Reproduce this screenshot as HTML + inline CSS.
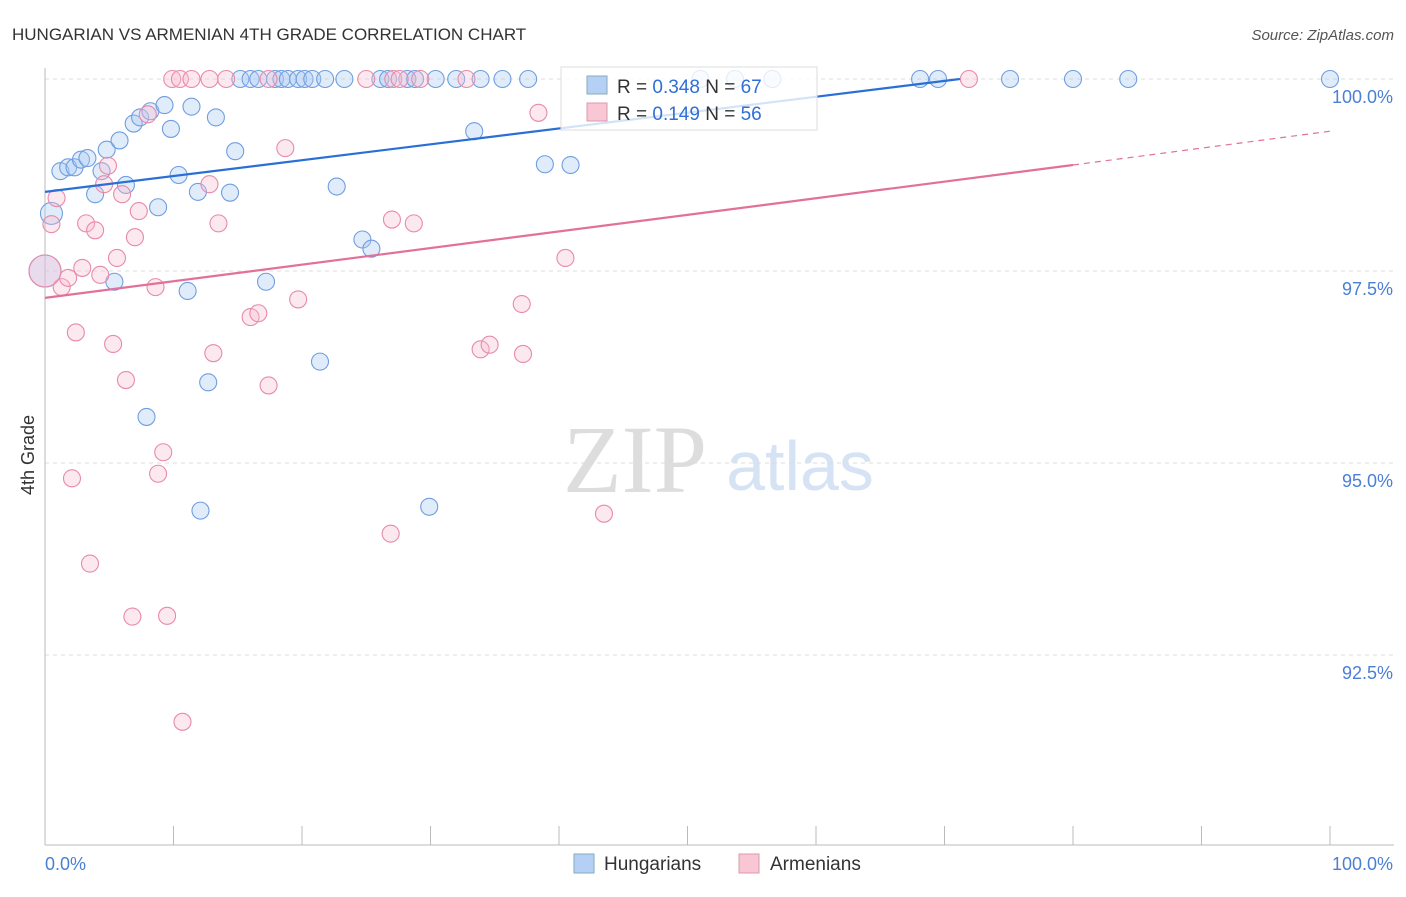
<!DOCTYPE html>
<html><head><meta charset="utf-8"><style>
body{margin:0;background:#fff;font-family:"Liberation Sans",sans-serif}
</style></head><body>
<svg id="c" width="1406" height="892" xmlns="http://www.w3.org/2000/svg" style="font-family:'Liberation Sans',sans-serif">
<text x="12" y="40" font-size="17" fill="#333">HUNGARIAN VS ARMENIAN 4TH GRADE CORRELATION CHART</text>
<text x="1394" y="40" font-size="15" fill="#555" text-anchor="end" font-style="italic">Source: ZipAtlas.com</text>
<text x="34" y="455" font-size="18" fill="#333" text-anchor="middle" transform="rotate(-90 34 455)">4th Grade</text>
<text x="635" y="492" font-size="96" fill="#ddd" font-family="Liberation Serif" text-anchor="middle">ZIP</text>
<text x="800" y="490" font-size="70" fill="#d6e3f5" text-anchor="middle">atlas</text>
<g id="grid"></g><g id="axes"></g><g id="pts"></g><g id="lines"></g>
<g>
<rect x="561" y="67" width="256" height="63" fill="#fff" fill-opacity="0.8" stroke="#ddd"/>
<rect x="587" y="76" width="20" height="18" fill="#b5d0f5" stroke="#8ab"/>
<text x="617" y="93" font-size="19" fill="#333">R = <tspan fill="#2f6fd6">0.348</tspan>   N = <tspan fill="#2f6fd6">67</tspan></text>
<rect x="587" y="103" width="20" height="18" fill="#f9c6d6" stroke="#d9a"/>
<text x="617" y="120" font-size="19" fill="#333">R = <tspan fill="#2f6fd6">0.149</tspan>   N = <tspan fill="#2f6fd6">56</tspan></text>
</g>
<g>
<rect x="574" y="854" width="20" height="19" fill="#b5d0f5" stroke="#8ab"/>
<text x="604" y="870" font-size="19" fill="#333">Hungarians</text>
<rect x="739" y="854" width="20" height="19" fill="#f9c6d6" stroke="#d9a"/>
<text x="770" y="870" font-size="19" fill="#333">Armenians</text>
</g>
</svg>
<script>
const yTicks=[100,97.5,95,92.5];
const yTickLabels=["100.0%","97.5%","95.0%","92.5%"];
const hunX=[0.5,0,1.2,1.8,2.3,2.8,3.3,4.4,3.9,4.8,5.8,6.3,6.9,7.4,8.2,9.3,9.8,10.4,11.4,11.9,13.3,14.4,14.8,8.8,5.4,11.1,17.2,7.9,12.7,12.1,21.4,22.7,24.7,25.4,29.9,33.4,38.9,40.9,15.2,16,16.6,17.9,18.4,18.9,19.7,20.2,20.8,21.8,23.3,26.1,26.7,28.2,28.8,30.4,32,33.9,35.6,37.6,51,53.7,56.6,68.1,69.5,75.1,80,84.3,100];
const hunY=[98.25,97.5,98.8,98.85,98.85,98.95,98.97,98.8,98.5,99.08,99.2,98.62,99.42,99.5,99.58,99.66,99.35,98.75,99.64,98.53,99.5,98.52,99.06,98.33,97.36,97.24,97.36,95.6,96.05,94.38,96.32,98.6,97.91,97.79,94.43,99.32,98.89,98.88,100,100,100,100,100,100,100,100,100,100,100,100,100,100,100,100,100,100,100,100,100,100,100,100,100,100,100,100,100];
const armX=[0.5,0.9,1.3,1.8,2.1,2.4,2.9,3.2,3.5,3.9,4.3,4.6,4.9,5.3,5.6,6,6.3,6.8,7,7.3,8,8.6,8.8,9.2,9.5,10.7,9.9,10.5,11.4,12.8,14.1,12.8,13.1,13.5,16,16.6,17.4,18.7,19.7,17.4,25,27.1,27.6,29.2,32.8,27,28.7,26.9,33.9,34.6,37.1,37.2,38.4,40.5,43.5,71.9,0];
const armY=[98.11,98.45,97.29,97.41,94.8,96.7,97.54,98.12,93.69,98.03,97.45,98.63,98.87,96.55,97.67,98.5,96.08,93,97.94,98.28,99.54,97.29,94.86,95.14,93.01,91.63,100,100,100,100,100,98.63,96.43,98.12,96.9,96.95,96.01,99.1,97.13,100,100,100,100,100,100,98.17,98.12,94.08,96.48,96.54,97.07,96.42,99.56,97.67,94.34,100,97.5];
const big={hun:[0,1],arm:[56]};
const X=v=>45+v*12.85, Y=v=>79+(100-v)*76.8;
const NS="http://www.w3.org/2000/svg";
function mk(t,a,p){const e=document.createElementNS(NS,t);for(const k in a)e.setAttribute(k,a[k]);document.getElementById(p).appendChild(e);return e;}
yTicks.forEach((t,i)=>{
 const l=mk('line',{x1:45,x2:1394,y1:Y(t),y2:Y(t),stroke:'#ddd','stroke-dasharray':'4,4'},'grid');
 
 
 const tx=mk('text',{x:1393,y:Y(t)+24,'font-size':18,fill:'#4a7fd6','text-anchor':'end'},'grid');
 tx.textContent=yTickLabels[i];
 
 
});
const ax=mk('line',{x1:45,x2:1394,y1:845,y2:845,stroke:'#bbb'},'axes');


const ay=mk('line',{x1:45,x2:45,y1:68,y2:845,stroke:'#bbb'},'axes');


for(let i=0;i<=10;i++){const t=mk('line',{x1:X(i*10),x2:X(i*10),y1:826,y2:845,stroke:'#bbb'},'axes');
 
 }
[["0.0%",45,'start'],["100.0%",1393,'end']].forEach(([s,x,a])=>{const t=mk('text',{x:x,y:870,'font-size':18,fill:'#4a7fd6','text-anchor':a},'axes');t.textContent=s;
 
 });
function pts(xs,ys,fill,stroke,name,bigs){xs.forEach((x,i)=>{const r=bigs.includes(i)?(i==0&&name=='hungarian-point'?11:16):8.5;
 const c=mk('circle',{cx:X(x),cy:Y(ys[i]),r:r,fill:fill,'fill-opacity':0.35,stroke:stroke,'stroke-width':1.1},'pts');
 
 });}
pts(hunX,hunY,'#a9c8f3','#6f9ee0','hungarian-point',big.hun);
pts(armX,armY,'#f7bcd0','#e88aa9','armenian-point',big.arm);
const bl=mk('line',{x1:X(0),y1:Y(98.53),x2:X(71.2),y2:Y(100),stroke:'#2a6fd6','stroke-width':2.2},'lines');


const pl=mk('line',{x1:X(0),y1:Y(97.15),x2:X(80),y2:Y(98.88),stroke:'#e2709a','stroke-width':2.2},'lines');


const pd=mk('line',{x1:X(80),y1:Y(98.88),x2:X(100),y2:Y(99.32),stroke:'#e2709a','stroke-width':1.2,'stroke-dasharray':'6,5'},'lines');


</script>
</body></html>
